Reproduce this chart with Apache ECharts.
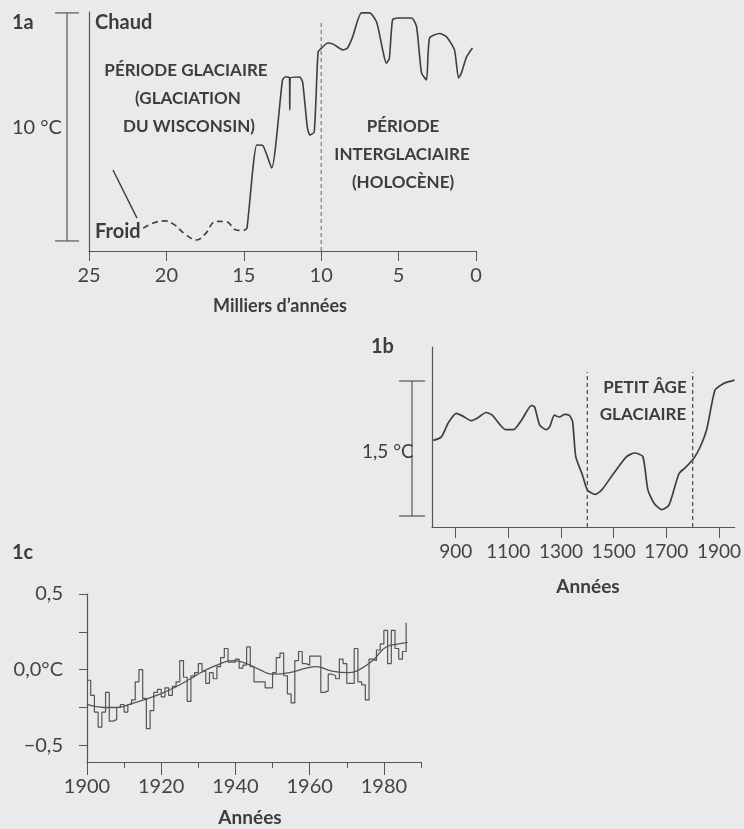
<!DOCTYPE html>
<html><head><meta charset="utf-8">
<script src="https://cdn.jsdelivr.net/npm/echarts@6/dist/echarts.min.js"></script>
<style>html,body{margin:0;padding:0;background:#eaeaec}#c{width:744px;height:829px}</style>
</head><body><div id="c"></div>
<script>
// ---------- Panel 1a : thousands of years before present vs relative temperature ----------
const ka1aLeader = [23.45, 21.9];
const t1aLeader  = [3.11, 1.0];
const ka1aDashed = [21.5, 20.8, 20.1, 19.5, 18.8, 18.05, 17.5, 16.8, 16.1, 15.5, 15.0];
const t1aDashed  = [0.56, 0.80, 0.88, 0.72, 0.30, 0.04, 0.30, 0.86, 0.84, 0.48, 0.46];
const ka1aSolid = [15.0, 14.8, 14.16, 13.8, 13.2, 12.5, 12.3, 12.05, 12.03, 12.0, 11.4, 11.2, 10.9, 10.74, 10.45, 10.2, 9.97, 9.58, 9.2, 8.6, 8.3, 7.97, 7.4, 6.87, 6.42, 6.03, 5.8, 5.6, 5.39, 5.06, 4.16, 3.84, 3.52, 3.2, 3.0, 2.35, 1.9, 1.39, 1.13, 0.94, 0.61, 0.23];
const t1aSolid  = [0.46, 0.55, 4.21, 4.20, 3.20, 7.06, 7.20, 7.15, 5.75, 7.15, 7.19, 6.97, 5.00, 4.65, 4.78, 8.29, 8.46, 8.68, 8.62, 8.38, 8.46, 8.95, 10.0, 10.0, 9.60, 8.38, 7.80, 8.00, 9.70, 9.78, 9.78, 9.40, 7.37, 7.06, 8.90, 9.10, 8.95, 8.38, 7.15, 7.37, 8.07, 8.46];
const ka1aDivider = [10, 10];
const t1aDivider  = [-0.44, 9.6];
const scale1a = [0, 10];           // "10 °C" scale bar, Froid -> Chaud

// ---------- Panel 1b : years AD ----------
const years1bTicks = [900, 1100, 1300, 1500, 1700, 1900];
const years1b = [815, 846, 871, 902, 927, 958, 983, 1016, 1039, 1089, 1120, 1151, 1188, 1200, 1219, 1244, 1257, 1275, 1294, 1313, 1331, 1344, 1356, 1381, 1400, 1430, 1455, 1499, 1549, 1580, 1611, 1630, 1654, 1683, 1710, 1748, 1773, 1804, 1829, 1854, 1885, 1916, 1934, 1959];
const temps1b = [0.84, 0.88, 1.03, 1.14, 1.11, 1.06, 1.09, 1.15, 1.12, 0.96, 0.96, 1.07, 1.23, 1.21, 1.01, 0.96, 0.99, 1.12, 1.10, 1.13, 1.12, 1.05, 0.66, 0.46, 0.29, 0.24, 0.29, 0.47, 0.66, 0.70, 0.66, 0.29, 0.14, 0.07, 0.12, 0.47, 0.54, 0.64, 0.77, 0.97, 1.40, 1.47, 1.49, 1.51];
const lia1bBounds = [1400, 1800];   // Petit âge glaciaire
const lia1bSpan = [-0.122, 1.6];
const scale1b = [0, 1.5];           // "1,5 °C" scale bar

// ---------- Panel 1c : annual anomalies 1900-1986 ----------
const years1c = [];
for (let y = 1900; y <= 1986; y++) years1c.push(y);
const anom1c = [
  -0.07, -0.17, -0.28, -0.38, -0.28, -0.15, -0.34, -0.33, -0.25, -0.23,
  -0.28, -0.23, -0.20, -0.08, 0.00, -0.19, -0.39, -0.27, -0.15, -0.13,
  -0.18, -0.12, -0.17, -0.11, -0.08, 0.06, -0.05, -0.21, -0.04, -0.02,
  0.04, -0.01, -0.09, -0.02, -0.06, 0.02, 0.08, 0.14, 0.05, 0.05,
  0.07, 0.01, 0.03, 0.15, 0.02, -0.08, -0.08, -0.08, -0.12, -0.12,
  -0.02, 0.08, 0.11, -0.04, -0.16, -0.22, 0.06, 0.12, 0.04, 0.03,
  0.09, 0.09, 0.09, -0.15, -0.14, -0.03, -0.04, -0.06, 0.07, 0.04,
  -0.09, -0.09, 0.14, -0.08, -0.10, -0.20, 0.07, 0.06, 0.13, 0.17,
  0.26, 0.04, 0.26, 0.14, 0.07, 0.12, 0.31
];
const smoothYears1c = [1900, 1904.6, 1908, 1912.6, 1915.3, 1919.8, 1923.4, 1927.9, 1930.6, 1935, 1939.3, 1943, 1946.5, 1950, 1954.6, 1959, 1961.7, 1966, 1970.7, 1973.4, 1977, 1980.6, 1984, 1986.4];
const smoothVals1c  = [-0.23, -0.25, -0.25, -0.22, -0.20, -0.16, -0.12, -0.06, -0.02, 0.03, 0.06, 0.04, 0.00, -0.03, -0.02, 0.01, 0.02, -0.01, -0.02, 0.00, 0.06, 0.15, 0.17, 0.18];
const years1cLabels = [1900, 1920, 1940, 1960, 1980];
const ticks1cY = [-0.5, -0.25, 0, 0.25, 0.5];
const labels1cY = { '-0.5': '\u22120,5', '0': '0,0°C', '0.5': '0,5' };

const zip = (a, b) => a.map((v, i) => [v, b[i]]);

const FONT = 'Lato, "Open Sans", sans-serif';
const TXT = '#3d3d3d';
const AX = '#555';
const LINE = '#3f3f3f';
const plain = v => String(v);

const chart = echarts.init(document.getElementById('c'), null, { renderer: 'canvas' });

const axisLineStyle = { show: true, onZero: false, lineStyle: { color: AX, width: 1.2 } };

const option = {
  animation: false,
  backgroundColor: '#eaeaec',
  grid: [
    { left: 89, top: 12, width: 387, height: 239 },
    { left: 432, top: 347, width: 308, height: 180 },
    { left: 87, top: 594, width: 334, height: 168 }
  ],
  xAxis: [
    { gridIndex: 0, type: 'value', min: 0, max: 25, interval: 5, inverse: true, position: 'bottom',
      axisLine: axisLineStyle, splitLine: { show: false },
      axisTick: { show: true, length: 10, lineStyle: { color: AX } },
      axisLabel: { margin: 15, fontSize: 20, color: '#444', fontFamily: FONT, formatter: plain } },
    { gridIndex: 1, type: 'value', min: 810, max: 1960, position: 'bottom',
      axisLine: axisLineStyle, splitLine: { show: false },
      axisTick: { show: true, length: 11, customValues: years1bTicks, lineStyle: { color: AX } },
      axisLabel: { margin: 15, fontSize: 19, color: '#444', fontFamily: FONT, customValues: years1bTicks, formatter: plain } },
    { gridIndex: 2, type: 'value', min: 1900, max: 1990, interval: 10, position: 'bottom',
      axisLine: axisLineStyle, splitLine: { show: false },
      axisTick: { show: true, length: 6, lineStyle: { color: AX } },
      axisLabel: { show: false } },
    { gridIndex: 2, type: 'value', min: 1900, max: 1990, position: 'bottom', offset: 0,
      axisLine: { show: false, onZero: false }, splitLine: { show: false },
      axisTick: { show: true, length: 13, customValues: years1cLabels, lineStyle: { color: AX } },
      axisLabel: { margin: 15, fontSize: 20, color: '#444', fontFamily: FONT, customValues: years1cLabels, formatter: plain } }
  ],
  yAxis: [
    { gridIndex: 0, type: 'value', min: -0.44, max: 10.04,
      axisLine: axisLineStyle, axisTick: { show: false }, axisLabel: { show: false }, splitLine: { show: false } },
    { gridIndex: 1, type: 'value', min: -0.122, max: 1.878,
      axisLine: axisLineStyle, axisTick: { show: false }, axisLabel: { show: false }, splitLine: { show: false } },
    { gridIndex: 2, type: 'value', min: -0.61, max: 0.5,
      axisLine: axisLineStyle, splitLine: { show: false },
      axisTick: { show: true, length: 8, customValues: ticks1cY, lineStyle: { color: AX } },
      axisLabel: { margin: 24, fontSize: 20, color: '#444', fontFamily: FONT,
        customValues: [-0.5, 0, 0.5], formatter: v => labels1cY[String(v)] || '' } }
  ],
  series: [
    { type: 'line', xAxisIndex: 0, yAxisIndex: 0, data: zip(ka1aLeader, t1aLeader), symbol: 'none', silent: true,
      lineStyle: { color: LINE, width: 1.4 } },
    { type: 'line', xAxisIndex: 0, yAxisIndex: 0, data: zip(ka1aDashed, t1aDashed), symbol: 'none', silent: true, smooth: 0.4,
      lineStyle: { color: LINE, width: 1.6, type: [6, 4] } },
    { type: 'line', xAxisIndex: 0, yAxisIndex: 0, data: zip(ka1aSolid, t1aSolid), symbol: 'none', silent: true, smooth: 0.2,
      lineStyle: { color: LINE, width: 1.6 } },
    { type: 'line', xAxisIndex: 0, yAxisIndex: 0, data: zip(ka1aDivider, t1aDivider), symbol: 'none', silent: true,
      lineStyle: { color: '#666', width: 1, type: [4, 3] } },
    { type: 'line', xAxisIndex: 1, yAxisIndex: 1, data: zip(years1b, temps1b), symbol: 'none', silent: true, smooth: 0.2,
      lineStyle: { color: LINE, width: 1.7 } },
    { type: 'line', xAxisIndex: 1, yAxisIndex: 1, data: zip([lia1bBounds[0], lia1bBounds[0]], lia1bSpan), symbol: 'none', silent: true,
      lineStyle: { color: '#555', width: 1.3, type: [4, 3] } },
    { type: 'line', xAxisIndex: 1, yAxisIndex: 1, data: zip([lia1bBounds[1], lia1bBounds[1]], lia1bSpan), symbol: 'none', silent: true,
      lineStyle: { color: '#555', width: 1.3, type: [4, 3] } },
    { type: 'line', xAxisIndex: 2, yAxisIndex: 2, data: zip(years1c, anom1c), symbol: 'none', silent: true, step: 'end',
      lineStyle: { color: '#555', width: 1.2 } },
    { type: 'line', xAxisIndex: 2, yAxisIndex: 2, data: zip(smoothYears1c, smoothVals1c), symbol: 'none', silent: true, smooth: true,
      lineStyle: { color: '#555', width: 1.3 } }
  ]
};
chart.setOption(option);

// scale bars positioned through the axes' own scales
const yA0 = chart.convertToPixel({ yAxisIndex: 0 }, scale1a[0]);
const yA1 = chart.convertToPixel({ yAxisIndex: 0 }, scale1a[1]);
const yB0 = chart.convertToPixel({ yAxisIndex: 1 }, scale1b[0]);
const yB1 = chart.convertToPixel({ yAxisIndex: 1 }, scale1b[1]);

function bar(x, y0, y1, half) {
  const st = { stroke: AX, lineWidth: 1.2 };
  return [
    { type: 'line', shape: { x1: x, y1: y0, x2: x, y2: y1 }, style: st, silent: true },
    { type: 'line', shape: { x1: x - half, y1: y0, x2: x + half, y2: y0 }, style: st, silent: true },
    { type: 'line', shape: { x1: x - half, y1: y1, x2: x + half, y2: y1 }, style: st, silent: true }
  ];
}
function txt(text, x, y, size, bold, align) {
  return { type: 'text', x: x, y: y, silent: true,
    style: { text: text, fill: TXT, font: (bold ? 'bold ' : '') + size + 'px ' + FONT,
      textAlign: align || 'left', textVerticalAlign: 'middle' } };
}

const graphics = [].concat(
  bar(67, yA0, yA1, 12),
  bar(412, yB0, yB1, 13),
  [
    txt('1a', 12, 23, 20, true),
    txt('Chaud', 95, 23, 20, true),
    txt('Froid', 95, 232, 20, true),
    txt('10 °C', 12, 128, 20, false),
    txt('PÉRIODE GLACIAIRE', 186, 71, 17, true, 'center'),
    txt('(GLACIATION', 188, 99, 17, true, 'center'),
    txt('DU WISCONSIN)', 189, 127, 17, true, 'center'),
    txt('PÉRIODE', 403, 127, 17, true, 'center'),
    txt('INTERGLACIAIRE', 402, 155, 17, true, 'center'),
    txt('(HOLOCÈNE)', 403, 183, 17, true, 'center'),
    txt('Milliers d\u2019années', 280, 306, 18, true, 'center'),
    txt('1b', 371, 347, 20, true),
    txt('1,5 °C', 362, 452, 19, false),
    txt('PETIT ÂGE', 645, 388, 17, true, 'center'),
    txt('GLACIAIRE', 643, 415, 17, true, 'center'),
    txt('Années', 588, 587, 19, true, 'center'),
    txt('1c', 12, 553, 20, true),
    txt('Années', 250, 818, 19, true, 'center')
  ]
);
chart.setOption({ graphic: graphics });
</script>
</body></html>
